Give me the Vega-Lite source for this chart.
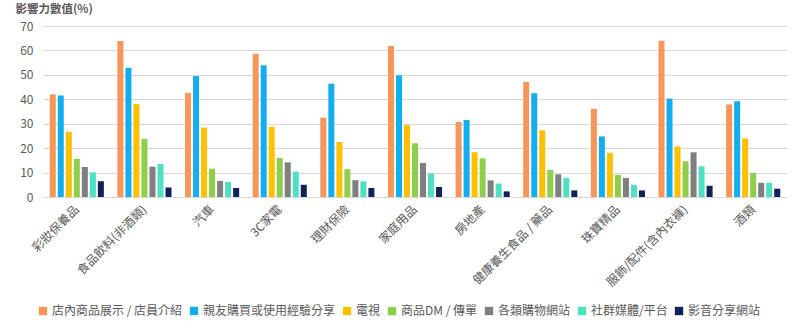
{
  "$schema": "https://vega.github.io/schema/vega-lite/v6.json",
  "width": 744,
  "height": 171,
  "autosize": "none",
  "padding": {"left": 43, "top": 26, "right": 13, "bottom": 133},
  "background": "white",
  "config": {
    "font": "Noto Sans CJK TC",
    "view": {"stroke": null}
  },
  "data": {
    "values": [
      {"c": "彩妝保養品", "s": "店內商品展示 / 店員介紹", "v": 42},
      {"c": "彩妝保養品", "s": "親友購買或使用經驗分享", "v": 41.5},
      {"c": "彩妝保養品", "s": "電視", "v": 26.7},
      {"c": "彩妝保養品", "s": "商品DM / 傳單", "v": 15.6},
      {"c": "彩妝保養品", "s": "各類購物網站", "v": 12.3},
      {"c": "彩妝保養品", "s": "社群媒體/平台", "v": 10.1},
      {"c": "彩妝保養品", "s": "影音分享網站", "v": 6.4},
      {"c": "食品飲料(非酒類)", "s": "店內商品展示 / 店員介紹", "v": 63.9},
      {"c": "食品飲料(非酒類)", "s": "親友購買或使用經驗分享", "v": 52.9},
      {"c": "食品飲料(非酒類)", "s": "電視", "v": 38},
      {"c": "食品飲料(非酒類)", "s": "商品DM / 傳單", "v": 23.8},
      {"c": "食品飲料(非酒類)", "s": "各類購物網站", "v": 12.4},
      {"c": "食品飲料(非酒類)", "s": "社群媒體/平台", "v": 13.5},
      {"c": "食品飲料(非酒類)", "s": "影音分享網站", "v": 3.9},
      {"c": "汽車", "s": "店內商品展示 / 店員介紹", "v": 42.6},
      {"c": "汽車", "s": "親友購買或使用經驗分享", "v": 49.5},
      {"c": "汽車", "s": "電視", "v": 28.4},
      {"c": "汽車", "s": "商品DM / 傳單", "v": 11.6},
      {"c": "汽車", "s": "各類購物網站", "v": 6.6},
      {"c": "汽車", "s": "社群媒體/平台", "v": 6.2},
      {"c": "汽車", "s": "影音分享網站", "v": 3.7},
      {"c": "3C家電", "s": "店內商品展示 / 店員介紹", "v": 58.6},
      {"c": "3C家電", "s": "親友購買或使用經驗分享", "v": 53.9},
      {"c": "3C家電", "s": "電視", "v": 28.7},
      {"c": "3C家電", "s": "商品DM / 傳單", "v": 16},
      {"c": "3C家電", "s": "各類購物網站", "v": 14.2},
      {"c": "3C家電", "s": "社群媒體/平台", "v": 10.4},
      {"c": "3C家電", "s": "影音分享網站", "v": 5},
      {"c": "理財保險", "s": "店內商品展示 / 店員介紹", "v": 32.5},
      {"c": "理財保險", "s": "親友購買或使用經驗分享", "v": 46.4},
      {"c": "理財保險", "s": "電視", "v": 22.5},
      {"c": "理財保險", "s": "商品DM / 傳單", "v": 11.4},
      {"c": "理財保險", "s": "各類購物網站", "v": 6.9},
      {"c": "理財保險", "s": "社群媒體/平台", "v": 6.4},
      {"c": "理財保險", "s": "影音分享網站", "v": 3.7},
      {"c": "家庭用品", "s": "店內商品展示 / 店員介紹", "v": 61.8},
      {"c": "家庭用品", "s": "親友購買或使用經驗分享", "v": 49.8},
      {"c": "家庭用品", "s": "電視", "v": 29.4},
      {"c": "家庭用品", "s": "商品DM / 傳單", "v": 22},
      {"c": "家庭用品", "s": "各類購物網站", "v": 13.9},
      {"c": "家庭用品", "s": "社群媒體/平台", "v": 9.6},
      {"c": "家庭用品", "s": "影音分享網站", "v": 4.1},
      {"c": "房地產", "s": "店內商品展示 / 店員介紹", "v": 30.7},
      {"c": "房地產", "s": "親友購買或使用經驗分享", "v": 31.5},
      {"c": "房地產", "s": "電視", "v": 18.3},
      {"c": "房地產", "s": "商品DM / 傳單", "v": 15.8},
      {"c": "房地產", "s": "各類購物網站", "v": 6.8},
      {"c": "房地產", "s": "社群媒體/平台", "v": 5.5},
      {"c": "房地產", "s": "影音分享網站", "v": 2.3},
      {"c": "健康養生食品 / 藥品", "s": "店內商品展示 / 店員介紹", "v": 47.1},
      {"c": "健康養生食品 / 藥品", "s": "親友購買或使用經驗分享", "v": 42.5},
      {"c": "健康養生食品 / 藥品", "s": "電視", "v": 27.3},
      {"c": "健康養生食品 / 藥品", "s": "商品DM / 傳單", "v": 11.1},
      {"c": "健康養生食品 / 藥品", "s": "各類購物網站", "v": 9.3},
      {"c": "健康養生食品 / 藥品", "s": "社群媒體/平台", "v": 7.8},
      {"c": "健康養生食品 / 藥品", "s": "影音分享網站", "v": 2.7},
      {"c": "珠寶精品", "s": "店內商品展示 / 店員介紹", "v": 36.1},
      {"c": "珠寶精品", "s": "親友購買或使用經驗分享", "v": 24.8},
      {"c": "珠寶精品", "s": "電視", "v": 18.1},
      {"c": "珠寶精品", "s": "商品DM / 傳單", "v": 9.1},
      {"c": "珠寶精品", "s": "各類購物網站", "v": 7.8},
      {"c": "珠寶精品", "s": "社群媒體/平台", "v": 5},
      {"c": "珠寶精品", "s": "影音分享網站", "v": 2.7},
      {"c": "服飾/配件(含內衣褲)", "s": "店內商品展示 / 店員介紹", "v": 64},
      {"c": "服飾/配件(含內衣褲)", "s": "親友購買或使用經驗分享", "v": 40.3},
      {"c": "服飾/配件(含內衣褲)", "s": "電視", "v": 20.7},
      {"c": "服飾/配件(含內衣褲)", "s": "商品DM / 傳單", "v": 14.6},
      {"c": "服飾/配件(含內衣褲)", "s": "各類購物網站", "v": 18.3},
      {"c": "服飾/配件(含內衣褲)", "s": "社群媒體/平台", "v": 12.6},
      {"c": "服飾/配件(含內衣褲)", "s": "影音分享網站", "v": 4.6},
      {"c": "酒類", "s": "店內商品展示 / 店員介紹", "v": 37.9},
      {"c": "酒類", "s": "親友購買或使用經驗分享", "v": 39.2},
      {"c": "酒類", "s": "電視", "v": 24},
      {"c": "酒類", "s": "商品DM / 傳單", "v": 9.9},
      {"c": "酒類", "s": "各類購物網站", "v": 5.8},
      {"c": "酒類", "s": "社群媒體/平台", "v": 5.8},
      {"c": "酒類", "s": "影音分享網站", "v": 3.4}
    ]
  },
  "mark": {"type": "bar"},
  "encoding": {
    "x": {
      "field": "c",
      "type": "nominal",
      "sort": null,
      "scale": {"paddingInner": 0.2, "paddingOuter": 0.1},
      "axis": {
        "title": null,
        "labelAngle": -45,
        "labelAlign": "right",
        "labelBaseline": "middle",
        "labelFontSize": 12,
        "labelColor": "#595959",
        "labelPadding": 10,
        "ticks": false,
        "domain": false
      }
    },
    "xOffset": {
      "field": "s",
      "type": "nominal",
      "sort": ["店內商品展示 / 店員介紹", "親友購買或使用經驗分享", "電視", "商品DM / 傳單", "各類購物網站", "社群媒體/平台", "影音分享網站"],
      "scale": {"paddingInner": 0.25}
    },
    "y": {
      "field": "v",
      "type": "quantitative",
      "scale": {"domain": [0, 70]},
      "axis": {
        "title": "影響力數值(%)",
        "titleAngle": 0,
        "titleAlign": "left",
        "titleBaseline": "middle",
        "titleX": -28,
        "titleY": -17,
        "titleFontSize": 11.5,
        "titleFontWeight": "bold",
        "titleColor": "#595959",
        "values": [0, 10, 20, 30, 40, 50, 60, 70],
        "labelFontSize": 12,
        "labelColor": "#595959",
        "labelPadding": 10,
        "ticks": false,
        "domain": false,
        "gridColor": "#d9d9d9",
        "gridWidth": 1
      }
    },
    "color": {
      "field": "s",
      "type": "nominal",
      "scale": {
        "domain": ["店內商品展示 / 店員介紹", "親友購買或使用經驗分享", "電視", "商品DM / 傳單", "各類購物網站", "社群媒體/平台", "影音分享網站"],
        "range": ["#F7965A", "#12AEEE", "#FFC000", "#8FCE4B", "#7F7F7F", "#4DE0C3", "#13215A"]
      },
      "legend": {
        "title": null,
        "orient": "none",
        "direction": "horizontal",
        "legendX": -6,
        "legendY": 279,
        "symbolType": "square",
        "symbolSize": 70,
        "symbolStrokeWidth": 0,
        "labelFontSize": 12,
        "labelColor": "#595959",
        "labelOffset": 3,
        "columnPadding": 5
      }
    }
  }
}
